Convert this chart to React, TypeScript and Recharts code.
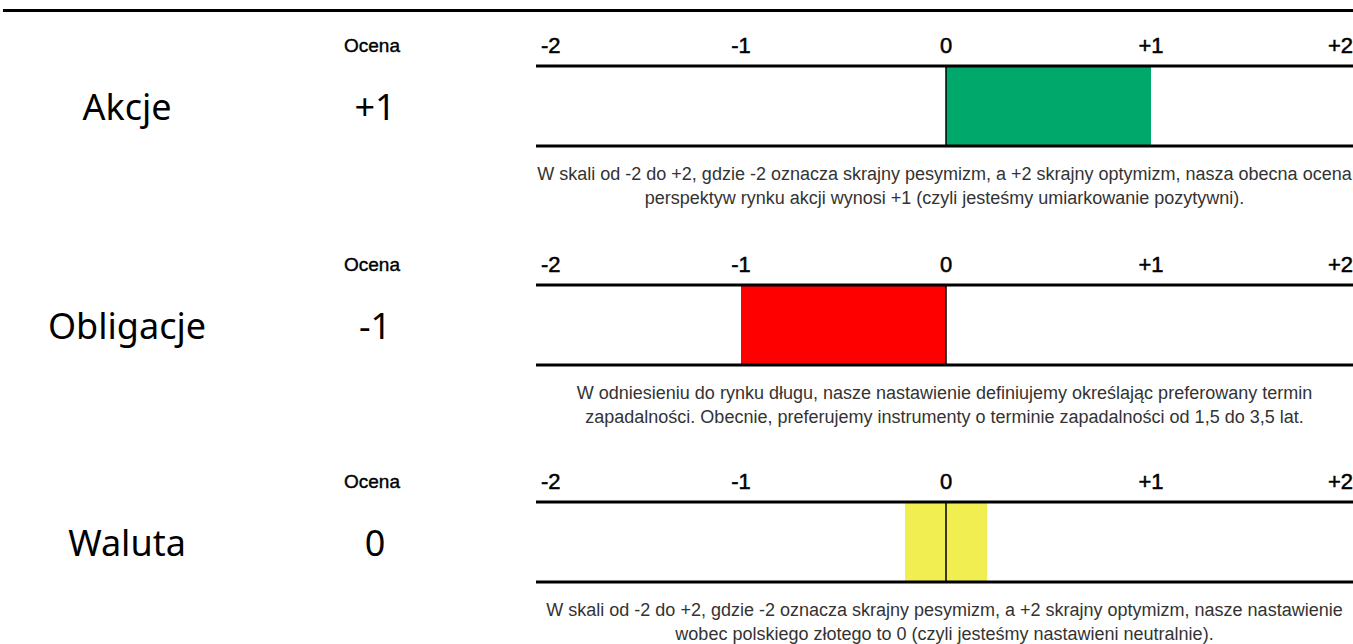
import { Bar, BarChart, ReferenceLine, XAxis, YAxis } from 'recharts'

const categories = ['Akcje', 'Obligacje', 'Waluta']
const scores = ['+1', '-1', '0']
const barRanges: Array<[number, number]> = [
  [0, 1],
  [-1, 0],
  [-0.2, 0.2],
]
const barColors = ['#00a86b', '#ff0000', '#f0ee50']
const scaleTicks = [-2, -1, 0, 1, 2]
const tickLabels = ['-2', '-1', '0', '+1', '+2']
const descriptions = [
  [
    'W skali od -2 do +2, gdzie -2 oznacza skrajny pesymizm, a +2 skrajny optymizm, nasza obecna ocena',
    'perspektyw rynku akcji wynosi +1 (czyli jesteśmy umiarkowanie pozytywni).',
  ],
  [
    'W odniesieniu do rynku długu, nasze nastawienie definiujemy określając preferowany termin',
    'zapadalności. Obecnie, preferujemy instrumenty o terminie zapadalności od 1,5 do 3,5 lat.',
  ],
  [
    'W skali od -2 do +2, gdzie -2 oznacza skrajny pesymizm, a +2 skrajny optymizm, nasze nastawienie',
    'wobec polskiego złotego to 0 (czyli jesteśmy nastawieni neutralnie).',
  ],
]

// y of the upper scale line for each block
const blockTops = [66, 285, 502]

const labelFont = '"Noto Sans", sans-serif'
const narrowFont = '"Liberation Sans Narrow", "Liberation Sans", sans-serif'

function ScaleTick(props: any) {
  const { x, y, payload } = props
  const i = scaleTicks.indexOf(payload.value)
  let anchor: 'start' | 'middle' | 'end' = 'middle'
  let dx = 0
  if (i === 0) {
    anchor = 'start'
    dx = 5
  } else if (i === scaleTicks.length - 1) {
    anchor = 'end'
    dx = -3
  }
  return (
    <text
      x={x + dx}
      y={y - 5}
      textAnchor={anchor}
      fontSize={22}
      fontFamily={narrowFont}
      fill="#000"
      stroke="#000"
      strokeWidth={0.5}
    >
      {tickLabels[i]}
    </text>
  )
}

function ScaleChart({ index }: { index: number }) {
  const data = [{ name: categories[index], range: barRanges[index] }]
  return (
    <BarChart
      width={820}
      height={122}
      data={data}
      layout="vertical"
      barCategoryGap={0}
      margin={{ top: 0, right: 0, bottom: 0, left: 0 }}
    >
      <XAxis
        xAxisId="top"
        orientation="top"
        type="number"
        domain={[-2, 2]}
        ticks={scaleTicks}
        tickLine={false}
        axisLine={{ stroke: '#000', strokeWidth: 3 }}
        tick={<ScaleTick />}
        height={40}
        interval={0}
      />
      <XAxis
        xAxisId="bottom"
        orientation="bottom"
        type="number"
        domain={[-2, 2]}
        tick={false}
        tickLine={false}
        axisLine={{ stroke: '#000', strokeWidth: 3 }}
        height={2}
      />
      <YAxis type="category" dataKey="name" hide />
      <Bar
        xAxisId="top"
        dataKey="range"
        fill={barColors[index]}
        isAnimationActive={false}
      />
      <ReferenceLine xAxisId="top" x={0} stroke="#000" strokeWidth={1.5} />
    </BarChart>
  )
}

export default function App() {
  return (
    <div
      style={{
        position: 'absolute',
        left: 0,
        top: 0,
        width: 1353,
        height: 644,
        overflow: 'hidden',
        background: '#fff',
      }}
    >
      <div
        style={{
          position: 'absolute',
          left: 3,
          top: 9,
          width: 1350,
          height: 3,
          background: '#000',
        }}
      />
      {categories.map((cat, i) => {
        const top = blockTops[i]
        return (
          <div key={cat}>
            <div
              style={{
                position: 'absolute',
                left: 322,
                width: 100,
                top: top - 30,
                textAlign: 'center',
                fontFamily: narrowFont,
                fontSize: 19,
                lineHeight: '20px',
                color: '#000',
                WebkitTextStroke: '0.4px #000',
              }}
            >
              Ocena
            </div>
            <div
              style={{
                position: 'absolute',
                left: 0,
                width: 254,
                top: top + 17,
                textAlign: 'center',
                fontFamily: labelFont,
                fontSize: 36,
                lineHeight: '48px',
                color: '#000',
              }}
            >
              {cat}
            </div>
            <div
              style={{
                position: 'absolute',
                left: 325,
                width: 100,
                top: top + 17,
                textAlign: 'center',
                fontFamily: labelFont,
                fontSize: 36,
                lineHeight: '48px',
                color: '#000',
              }}
            >
              {scores[i]}
            </div>
            <div style={{ position: 'absolute', left: 536, top: top - 40 }}>
              <ScaleChart index={i} />
            </div>
            <div
              style={{
                position: 'absolute',
                left: 536,
                width: 817,
                top: top + 96,
                textAlign: 'center',
                fontFamily: narrowFont,
                fontSize: 18,
                lineHeight: '24px',
                color: '#333',
              }}
            >
              {descriptions[i].map((line) => (
                <div key={line}>{line}</div>
              ))}
            </div>
          </div>
        )
      })}
    </div>
  )
}
